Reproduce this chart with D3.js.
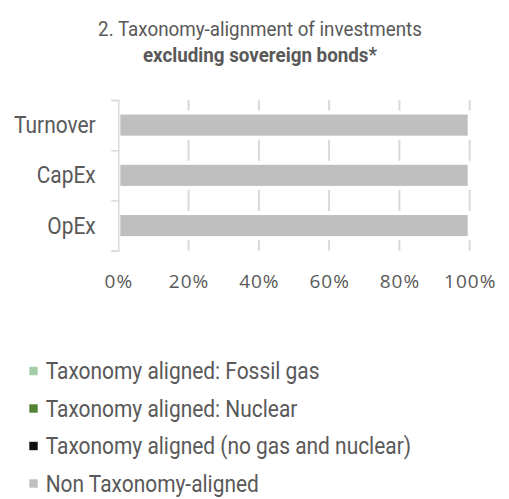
<!DOCTYPE html>
<html lang="en">
<head>
  <meta charset="UTF-8">
  <title>Taxonomy-alignment excluding sovereign bonds</title>
  <style>
    body { margin: 0; background: #fff; }
    text { font-family: Roboto, "Noto Sans", sans-serif; fill: #595959; }
  </style>
</head>
<body>
  <svg id="chart" width="509" height="499"></svg>
  <script src="https://d3js.org/d3.v7.min.js"></script>
  <script>
    // categories and series (share of investments, %)
    const categories = ["Turnover", "CapEx", "OpEx"];
    const fossilGas = [0, 0, 0];
    const nuclear = [0, 0, 0];
    const alignedOther = [0, 0, 0];
    const nonAligned = [100, 100, 100];
    const xTicks = [0, 20, 40, 60, 80, 100];

    const seriesNames = [
      "Taxonomy aligned: Fossil gas",
      "Taxonomy aligned: Nuclear",
      "Taxonomy aligned (no gas and nuclear)",
      "Non Taxonomy-aligned"
    ];
    const seriesColors = ["#a3cfa8", "#548235", "#111111", "#bfbfbf"];

    // the original uses a condensed face, so squeeze Roboto a little
    const squeeze = 0.91;

    const svg = d3.select("svg#chart");

    // title
    const title = svg.append("g")
      .attr("transform", "translate(260,0) scale(0.94,1)")
      .append("text")
      .attr("text-anchor", "middle")
      .attr("font-size", 20);
    title.append("tspan").attr("x", 0).attr("y", 36)
      .text("2. Taxonomy-alignment of investments");
    title.append("tspan").attr("x", 0).attr("y", 61.7)
      .attr("font-weight", "bold")
      .text("excluding sovereign bonds*");

    // stacked table built from the arrays
    const table = categories.map((c, i) => ({
      cat: c,
      s0: fossilGas[i], s1: nuclear[i], s2: alignedOther[i], s3: nonAligned[i]
    }));
    const keys = ["s0", "s1", "s2", "s3"];
    const stack = d3.stack().keys(keys)(table);

    const x = d3.scaleLinear().domain([0, 100]).range([118.3, 469.7]);
    const y = d3.scaleBand().domain(categories).range([100, 250.7])
      .paddingInner(0.5).paddingOuter(0.25);

    // vertical gridlines
    svg.append("g")
      .selectAll("line")
      .data(xTicks.filter(d => d > 0))
      .join("line")
      .attr("x1", d => x(d)).attr("x2", d => x(d))
      .attr("y1", y.range()[0]).attr("y2", y.range()[1])
      .attr("stroke", "#d9d9d9")
      .attr("stroke-width", 2);

    // bars
    svg.append("g")
      .selectAll("g")
      .data(stack)
      .join("g")
      .attr("fill", (d, i) => seriesColors[i])
      .selectAll("rect")
      .data(d => d)
      .join("rect")
      .attr("x", d => x(d[0]))
      .attr("width", d => Math.max(0, x(d[1]) - x(d[0])))
      .attr("y", d => y(d.data.cat))
      .attr("height", y.bandwidth())
      .attr("stroke", "#fff")
      .attr("stroke-width", d => d[1] > d[0] ? 4 : 0);

    // category axis: line with ticks at band boundaries
    const yEdge = d3.scaleLinear().domain([0, categories.length]).range(y.range());
    const yAxis = svg.append("g")
      .attr("transform", "translate(" + x(0) + ",0)")
      .call(d3.axisLeft(yEdge).ticks(categories.length).tickFormat("").tickSize(7));
    yAxis.selectAll("path, line").attr("stroke", "#d9d9d9").attr("stroke-width", 1.5);

    // category labels
    svg.append("g")
      .selectAll("g")
      .data(categories)
      .join("g")
      .attr("transform", d => "translate(95.7," + (y(d) + y.bandwidth() / 2) + ") scale(" + squeeze + ",1)")
      .append("text")
      .attr("text-anchor", "end")
      .attr("dy", "0.35em")
      .attr("font-size", 23)
      .text(d => d);

    // percent axis labels
    const xAxis = svg.append("g")
      .attr("transform", "translate(0," + y.range()[1] + ")")
      .call(d3.axisBottom(x).tickValues(xTicks).tickFormat(d => d + "%").tickSize(0).tickPadding(24));
    xAxis.select(".domain").remove();
    xAxis.selectAll("text")
      .style("font-family", "'Open Sans', sans-serif")
      .attr("font-size", 19)
      .attr("fill", "#595959")
      .style("letter-spacing", "1px");

    // legend
    const legend = svg.append("g")
      .selectAll("g")
      .data(seriesNames)
      .join("g")
      .attr("transform", (d, i) => "translate(29.3," + (379.3 + i * 37.5) + ")");
    legend.append("rect")
      .attr("y", -12.5).attr("width", 8.4).attr("height", 8.4)
      .attr("fill", (d, i) => seriesColors[i]);
    legend.append("g")
      .attr("transform", "translate(16.4,0) scale(" + squeeze + ",1)")
      .append("text")
      .attr("font-size", 23)
      .text(d => d);
  </script>
</body>
</html>
